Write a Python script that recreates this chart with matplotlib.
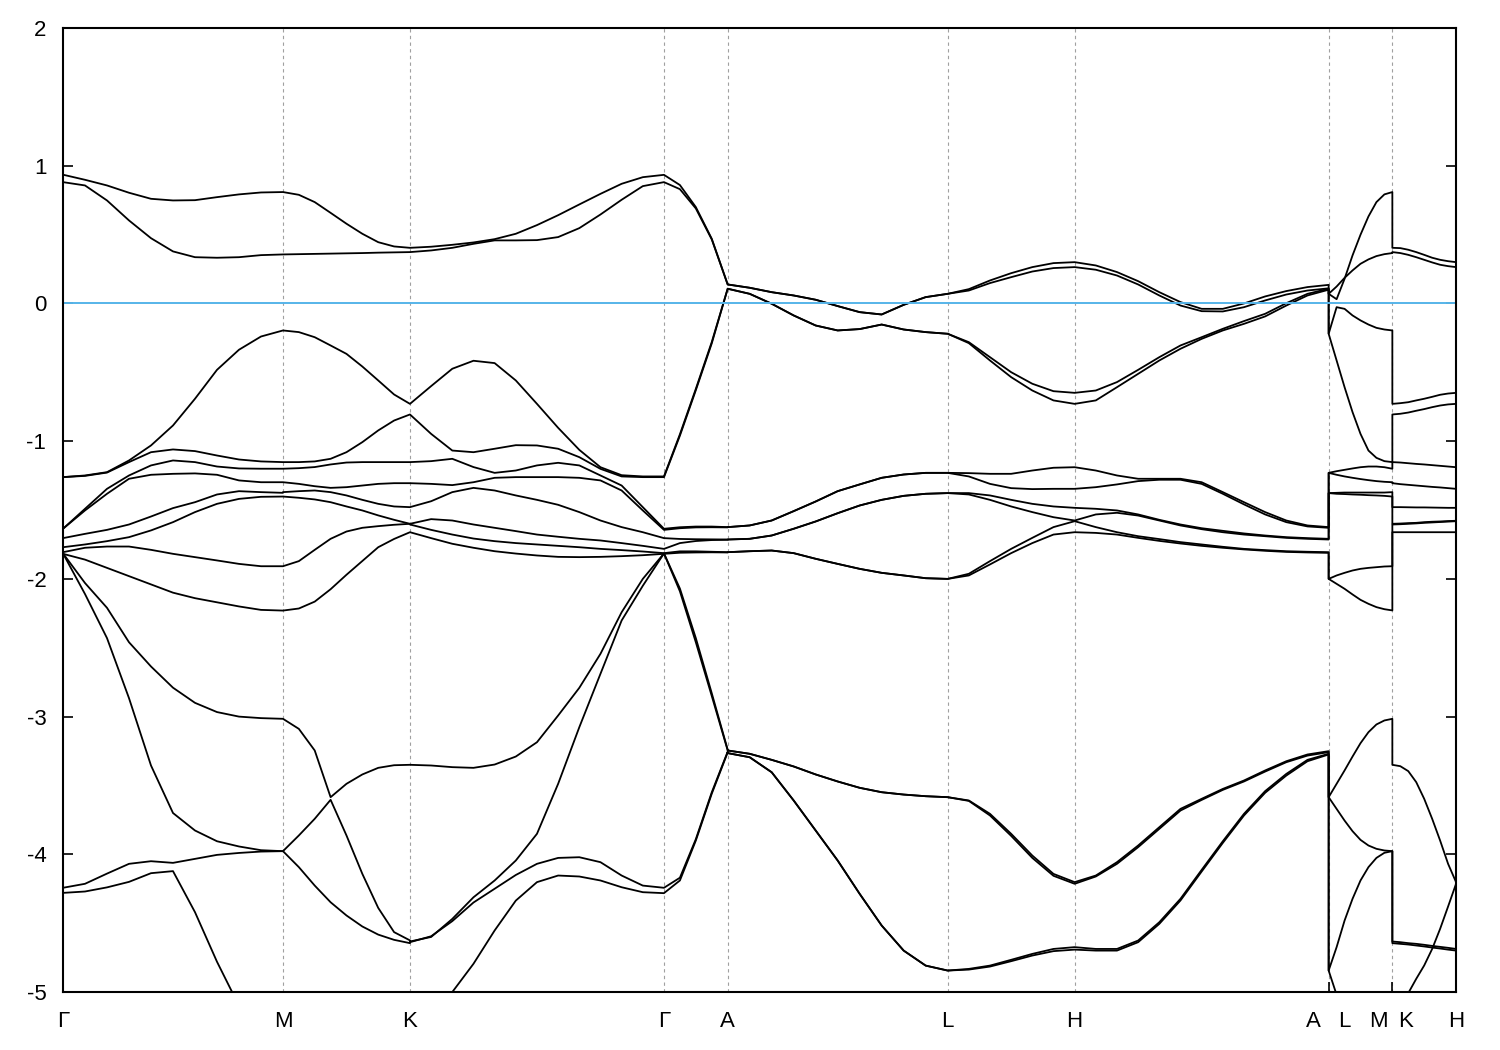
import numpy as np
import matplotlib.pyplot as plt

plt.rcParams['font.family'] = ['Liberation Sans', 'DejaVu Sans']
plt.rcParams['axes.unicode_minus'] = False

nan = np.nan

# k-path segments (lengths in units of 2*pi/a, hexagonal cell)
seg_len = [0.5774, 0.3333, 0.6667, 0.1672, 0.5774, 0.3333, 0.6667, 0.1672, 0.1672]
labels = ['Γ', 'M', 'K', 'Γ', 'A', 'L', 'H', 'A', 'L', 'M', 'K', 'H']

# band energies (eV) sampled evenly along each segment, one row per band
e_gm = [
    [0.935, 0.898, 0.857, 0.804, 0.760, 0.748, 0.750, 0.772, 0.792, 0.806, 0.809],
    [0.881, 0.857, 0.748, 0.603, 0.474, 0.378, 0.336, 0.332, 0.336, 0.351, 0.356],
    [-1.261, -1.249, -1.225, -1.140, -1.031, -0.886, -0.692, -0.482, -0.336, -0.240, -0.196],
    [-1.261, -1.252, -1.228, -1.152, -1.080, -1.060, -1.072, -1.104, -1.133, -1.147, -1.152],
    [-1.636, -1.491, -1.346, -1.249, -1.176, -1.140, -1.152, -1.184, -1.198, -1.200, -1.200],
    [-1.636, -1.503, -1.382, -1.273, -1.244, -1.237, -1.234, -1.244, -1.285, -1.298, -1.298],
    [-1.704, -1.673, -1.644, -1.605, -1.547, -1.486, -1.443, -1.387, -1.363, -1.370, -1.375],
    [-1.770, -1.750, -1.726, -1.697, -1.648, -1.588, -1.515, -1.455, -1.419, -1.404, -1.402],
    [-1.806, -1.774, -1.765, -1.765, -1.789, -1.818, -1.842, -1.866, -1.891, -1.908, -1.908],
    [-1.818, -1.860, -1.920, -1.980, -2.040, -2.100, -2.140, -2.170, -2.200, -2.225, -2.230],
    [-1.815, -2.030, -2.210, -2.460, -2.636, -2.790, -2.900, -2.967, -3.000, -3.011, -3.016],
    [-1.815, -2.110, -2.430, -2.866, -3.355, -3.700, -3.827, -3.905, -3.943, -3.970, -3.977],
    [-4.243, -4.214, -4.140, -4.069, -4.050, -4.062, -4.033, -4.004, -3.990, -3.980, -3.977],
    [-4.280, -4.270, -4.240, -4.200, -4.137, -4.122, -4.420, -4.780, -5.100, nan, nan],
]

e_mk = [
    [0.809, 0.789, 0.736, 0.658, 0.579, 0.506, 0.445, 0.414, 0.404],
    [0.356, 0.358, 0.360, 0.362, 0.364, 0.366, 0.369, 0.371, 0.373],
    [-0.196, -0.208, -0.245, -0.305, -0.366, -0.458, -0.559, -0.661, -0.729],
    [-1.152, -1.152, -1.147, -1.128, -1.080, -1.007, -0.922, -0.850, -0.806],
    [-1.200, -1.196, -1.188, -1.169, -1.155, -1.152, -1.152, -1.152, -1.152],
    [-1.298, -1.310, -1.327, -1.339, -1.334, -1.322, -1.310, -1.305, -1.305],
    [-1.370, -1.363, -1.358, -1.370, -1.394, -1.426, -1.455, -1.474, -1.479],
    [-1.402, -1.411, -1.423, -1.443, -1.474, -1.503, -1.539, -1.571, -1.600],
    [-1.908, -1.871, -1.789, -1.709, -1.656, -1.629, -1.617, -1.607, -1.600],
    [-2.230, -2.215, -2.165, -2.075, -1.970, -1.870, -1.770, -1.710, -1.661],
    [-3.016, -3.089, -3.246, -3.585, -3.488, -3.420, -3.372, -3.353, -3.350],
    [-3.977, -3.863, -3.742, -3.604, -3.863, -4.142, -4.389, -4.565, -4.625],
    [-3.977, -4.093, -4.227, -4.348, -4.444, -4.524, -4.583, -4.621, -4.645],
    [nan, nan, nan, nan, nan, nan, nan, nan, nan],
]

e_kg = [
    [0.404, 0.412, 0.426, 0.443, 0.467, 0.506, 0.569, 0.641, 0.719, 0.796, 0.869, 0.917, 0.934],
    [0.373, 0.385, 0.404, 0.433, 0.458, 0.458, 0.460, 0.482, 0.547, 0.646, 0.753, 0.852, 0.881],
    [-0.729, -0.600, -0.474, -0.416, -0.433, -0.559, -0.729, -0.903, -1.063, -1.189, -1.247, -1.256, -1.256],
    [-0.806, -0.947, -1.068, -1.080, -1.055, -1.029, -1.031, -1.055, -1.116, -1.201, -1.256, -1.261, -1.261],
    [-1.152, -1.145, -1.128, -1.188, -1.230, -1.213, -1.176, -1.157, -1.176, -1.249, -1.322, -1.479, -1.636],
    [-1.305, -1.310, -1.319, -1.298, -1.266, -1.261, -1.261, -1.261, -1.266, -1.285, -1.358, -1.503, -1.644],
    [-1.479, -1.436, -1.370, -1.339, -1.358, -1.394, -1.426, -1.462, -1.515, -1.576, -1.624, -1.661, -1.704],
    [-1.600, -1.566, -1.576, -1.605, -1.629, -1.653, -1.678, -1.694, -1.709, -1.721, -1.740, -1.760, -1.782],
    [-1.605, -1.644, -1.678, -1.707, -1.726, -1.740, -1.750, -1.760, -1.770, -1.782, -1.791, -1.801, -1.813],
    [-1.661, -1.704, -1.745, -1.774, -1.799, -1.816, -1.830, -1.840, -1.842, -1.840, -1.835, -1.828, -1.818],
    [-3.350, -3.355, -3.367, -3.372, -3.348, -3.290, -3.186, -2.992, -2.791, -2.544, -2.242, -2.000, -1.815],
    [-4.633, -4.600, -4.469, -4.312, -4.190, -4.045, -3.851, -3.488, -3.077, -2.689, -2.302, -2.050, -1.815],
    [-4.638, -4.595, -4.485, -4.350, -4.250, -4.150, -4.069, -4.026, -4.021, -4.057, -4.154, -4.227, -4.243],
    [nan, -5.300, -5.000, -4.795, -4.553, -4.336, -4.202, -4.154, -4.161, -4.190, -4.239, -4.275, -4.282],
]

e_ga = [
    [0.934, 0.860, 0.700, 0.470, 0.138],
    [0.881, 0.830, 0.690, 0.465, 0.138],
    [-1.256, -0.950, -0.620, -0.280, 0.107],
    [-1.261, -0.960, -0.630, -0.290, 0.107],
    [-1.636, -1.625, -1.620, -1.620, -1.624],
    [-1.644, -1.632, -1.626, -1.625, -1.626],
    [-1.704, -1.710, -1.712, -1.713, -1.714],
    [-1.782, -1.740, -1.725, -1.718, -1.716],
    [-1.813, -1.800, -1.800, -1.803, -1.806],
    [-1.818, -1.810, -1.808, -1.807, -1.808],
    [-1.815, -2.070, -2.430, -2.830, -3.240],
    [-1.815, -2.090, -2.460, -2.850, -3.245],
    [-4.243, -4.170, -3.890, -3.550, -3.255],
    [-4.282, -4.190, -3.900, -3.560, -3.260],
]

e_al = [
    [0.138, 0.114, 0.082, 0.058, 0.027, -0.019, -0.063, -0.080, -0.010, 0.046, 0.070],
    [0.138, 0.114, 0.082, 0.058, 0.027, -0.019, -0.063, -0.080, -0.010, 0.046, 0.070],
    [0.107, 0.070, -0.002, -0.087, -0.160, -0.196, -0.186, -0.153, -0.189, -0.208, -0.220],
    [0.107, 0.070, -0.002, -0.087, -0.160, -0.196, -0.186, -0.153, -0.189, -0.208, -0.220],
    [-1.624, -1.612, -1.576, -1.508, -1.438, -1.363, -1.314, -1.266, -1.242, -1.230, -1.230],
    [-1.624, -1.612, -1.576, -1.508, -1.438, -1.363, -1.314, -1.266, -1.242, -1.230, -1.230],
    [-1.714, -1.709, -1.685, -1.636, -1.583, -1.523, -1.467, -1.426, -1.397, -1.382, -1.377],
    [-1.714, -1.709, -1.685, -1.636, -1.583, -1.523, -1.467, -1.426, -1.397, -1.382, -1.377],
    [-1.806, -1.799, -1.794, -1.813, -1.854, -1.891, -1.927, -1.956, -1.975, -1.995, -2.000],
    [-1.806, -1.799, -1.794, -1.813, -1.854, -1.891, -1.927, -1.956, -1.975, -1.995, -2.000],
    [-3.246, -3.270, -3.314, -3.362, -3.420, -3.471, -3.517, -3.549, -3.566, -3.578, -3.585],
    [-3.246, -3.270, -3.314, -3.362, -3.420, -3.471, -3.517, -3.549, -3.566, -3.578, -3.585],
    [-3.265, -3.295, -3.404, -3.609, -3.827, -4.045, -4.287, -4.517, -4.699, -4.808, -4.844],
    [-3.265, -3.295, -3.404, -3.609, -3.827, -4.045, -4.287, -4.517, -4.699, -4.808, -4.844],
]

e_lh = [
    [0.070, 0.104, 0.167, 0.220, 0.264, 0.293, 0.300],
    [0.070, 0.094, 0.148, 0.191, 0.232, 0.257, 0.264],
    [-0.220, -0.281, -0.390, -0.499, -0.583, -0.637, -0.649],
    [-0.220, -0.288, -0.414, -0.535, -0.632, -0.704, -0.729],
    [-1.230, -1.232, -1.237, -1.237, -1.213, -1.193, -1.189],
    [-1.230, -1.256, -1.310, -1.341, -1.348, -1.346, -1.346],
    [-1.377, -1.377, -1.394, -1.426, -1.455, -1.474, -1.484],
    [-1.377, -1.387, -1.426, -1.474, -1.515, -1.552, -1.576],
    [-2.000, -1.963, -1.871, -1.782, -1.702, -1.624, -1.581],
    [-2.000, -1.975, -1.895, -1.813, -1.740, -1.678, -1.661],
    [-3.585, -3.609, -3.706, -3.851, -4.009, -4.142, -4.202],
    [-3.585, -3.612, -3.718, -3.866, -4.026, -4.156, -4.214],
    [-4.844, -4.832, -4.808, -4.766, -4.723, -4.687, -4.674],
    [-4.844, -4.837, -4.815, -4.776, -4.735, -4.703, -4.692],
]

e_ha = [
    [0.300, 0.276, 0.228, 0.162, 0.082, 0.010, -0.039, -0.039, 0.000, 0.051, 0.090, 0.119, 0.135],
    [0.264, 0.245, 0.203, 0.138, 0.058, -0.015, -0.056, -0.058, -0.027, 0.022, 0.065, 0.094, 0.110],
    [-0.649, -0.632, -0.571, -0.482, -0.390, -0.305, -0.245, -0.184, -0.128, -0.075, 0.002, 0.070, 0.107],
    [-0.729, -0.704, -0.608, -0.511, -0.414, -0.329, -0.257, -0.196, -0.148, -0.094, -0.015, 0.058, 0.100],
    [-1.189, -1.213, -1.249, -1.273, -1.273, -1.273, -1.298, -1.370, -1.443, -1.515, -1.576, -1.612, -1.624],
    [-1.346, -1.334, -1.314, -1.290, -1.280, -1.280, -1.310, -1.382, -1.459, -1.532, -1.588, -1.619, -1.629],
    [-1.484, -1.491, -1.503, -1.532, -1.571, -1.605, -1.632, -1.651, -1.670, -1.685, -1.697, -1.704, -1.709],
    [-1.576, -1.532, -1.520, -1.540, -1.576, -1.612, -1.639, -1.661, -1.678, -1.690, -1.702, -1.709, -1.714],
    [-1.581, -1.624, -1.661, -1.690, -1.711, -1.733, -1.750, -1.767, -1.782, -1.791, -1.799, -1.803, -1.806],
    [-1.661, -1.666, -1.678, -1.702, -1.724, -1.743, -1.760, -1.774, -1.786, -1.796, -1.804, -1.808, -1.811],
    [-4.202, -4.154, -4.057, -3.936, -3.803, -3.670, -3.597, -3.525, -3.464, -3.391, -3.324, -3.275, -3.251],
    [-4.214, -4.161, -4.069, -3.948, -3.815, -3.682, -3.605, -3.532, -3.471, -3.399, -3.331, -3.283, -3.258],
    [-4.674, -4.687, -4.687, -4.626, -4.493, -4.323, -4.113, -3.905, -3.706, -3.541, -3.416, -3.314, -3.270],
    [-4.692, -4.699, -4.699, -4.638, -4.505, -4.335, -4.125, -3.917, -3.718, -3.553, -3.428, -3.324, -3.275],
]

e_lm = [
    [0.070, 0.031, 0.179, 0.349, 0.499, 0.632, 0.736, 0.792, 0.809],
    [0.070, 0.123, 0.186, 0.240, 0.288, 0.320, 0.344, 0.358, 0.366],
    [-0.220, -0.027, -0.039, -0.087, -0.123, -0.153, -0.177, -0.189, -0.196],
    [-0.220, -0.414, -0.608, -0.789, -0.947, -1.068, -1.121, -1.145, -1.152],
    [-1.230, -1.218, -1.208, -1.198, -1.189, -1.184, -1.184, -1.189, -1.200],
    [-1.230, -1.244, -1.256, -1.266, -1.275, -1.283, -1.290, -1.295, -1.298],
    [-1.377, -1.375, -1.373, -1.373, -1.373, -1.373, -1.373, -1.373, -1.370],
    [-1.377, -1.382, -1.384, -1.387, -1.389, -1.392, -1.394, -1.397, -1.402],
    [-2.000, -1.975, -1.956, -1.939, -1.927, -1.920, -1.915, -1.910, -1.908],
    [-2.000, -2.036, -2.072, -2.113, -2.152, -2.181, -2.205, -2.220, -2.229],
    [-3.585, -3.488, -3.391, -3.290, -3.193, -3.113, -3.057, -3.028, -3.016],
    [-3.585, -3.670, -3.755, -3.832, -3.895, -3.936, -3.960, -3.972, -3.977],
    [-4.844, -4.674, -4.481, -4.323, -4.190, -4.093, -4.026, -3.989, -3.977],
    [-4.844, -5.020, -5.300, nan, nan, nan, nan, nan, nan],
]

e_kh = [
    [0.404, 0.402, 0.390, 0.373, 0.353, 0.332, 0.317, 0.307, 0.300],
    [0.373, 0.366, 0.353, 0.336, 0.317, 0.298, 0.281, 0.271, 0.264],
    [-0.729, -0.724, -0.717, -0.704, -0.692, -0.678, -0.663, -0.654, -0.649],
    [-0.806, -0.801, -0.792, -0.779, -0.767, -0.753, -0.741, -0.733, -0.729],
    [-1.152, -1.155, -1.160, -1.165, -1.169, -1.174, -1.179, -1.184, -1.189],
    [-1.305, -1.312, -1.317, -1.322, -1.327, -1.332, -1.336, -1.341, -1.346],
    [-1.479, -1.479, -1.480, -1.481, -1.481, -1.482, -1.483, -1.484, -1.484],
    [-1.600, -1.598, -1.595, -1.593, -1.588, -1.585, -1.583, -1.580, -1.578],
    [-1.605, -1.603, -1.600, -1.597, -1.593, -1.590, -1.587, -1.584, -1.581],
    [-1.661, -1.661, -1.661, -1.661, -1.661, -1.661, -1.661, -1.661, -1.661],
    [-3.350, -3.360, -3.396, -3.476, -3.597, -3.742, -3.900, -4.069, -4.202],
    [-4.633, -4.638, -4.645, -4.650, -4.657, -4.665, -4.672, -4.679, -4.687],
    [-4.645, -4.650, -4.655, -4.662, -4.669, -4.677, -4.684, -4.692, -4.699],
    [nan, -5.130, -5.008, -4.904, -4.807, -4.687, -4.541, -4.379, -4.214],
]

segments = [e_gm, e_mk, e_kg, e_ga, e_al, e_lh, e_ha, e_lm, e_kh]


def main():
    starts = np.concatenate([[0.0], np.cumsum(seg_len)])
    fig = plt.figure(figsize=(15, 10.5), dpi=100)
    ax = fig.add_axes([0.042, 0.0552, 0.9287, 0.9181])

    for b in range(len(e_gm)):
        xs, ys = [], []
        for s, seg in enumerate(segments):
            e = np.asarray(seg[b], dtype=float)
            t = np.linspace(0.0, 1.0, len(e))
            xs.append(starts[s] + t * seg_len[s])
            ys.append(e)
        ax.plot(np.concatenate(xs), np.concatenate(ys), color='black', lw=1.3,
                solid_joinstyle='round', zorder=2)

    for x in starts[1:-1]:
        ax.axvline(x, color='#a0a0a0', lw=0.8, ls=(0, (3, 3)), zorder=1)
    ax.axhline(0.0, color='#56b4e9', lw=1.4, zorder=3)

    ax.set_xlim(starts[0], starts[-1])
    ax.set_ylim(-5, 2)

    # tick labels next to the broken points are nudged apart
    label_pos = list(starts[:8])
    label_pos[7] = starts[7] - 0.039
    label_pos += [starts[7] + 0.040, starts[8] - 0.037, starts[8] + 0.034, starts[9]]
    ax.set_xticks(label_pos, labels)
    ax.set_xticks(starts[1:-1], minor=True)
    ax.tick_params(axis='x', which='major', length=0, pad=14, labelsize=16)
    ax.tick_params(axis='x', which='minor', direction='in', length=7, width=1.2,
                   top=False, bottom=True)

    ax.set_yticks(np.arange(-5, 3))
    ax.set_yticklabels([str(v) for v in range(-5, 3)])
    ax.tick_params(axis='y', direction='in', length=7, width=1.2,
                   left=True, right=True, pad=12, labelsize=16)

    for sp in ax.spines.values():
        sp.set_linewidth(1.5)
        sp.set_zorder(4)

    fig.savefig('out.png', dpi=100)


if __name__ == "__main__":
    main()
